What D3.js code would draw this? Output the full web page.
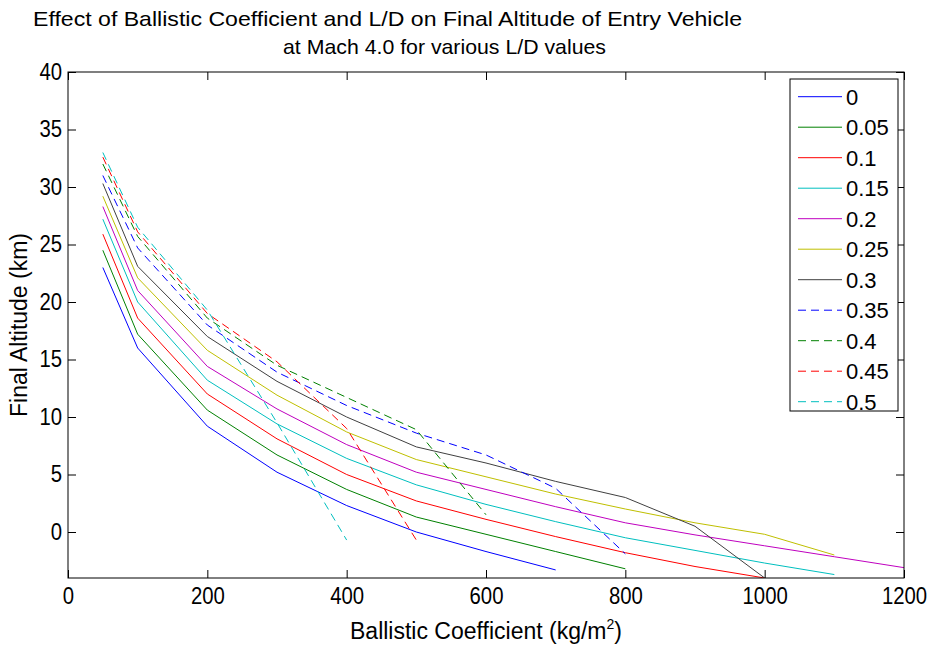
<!DOCTYPE html>
<html>
<head>
<meta charset="utf-8">
<script src="https://cdn.jsdelivr.net/npm/d3@7"></script>
<style>
  html, body { margin: 0; padding: 0; background: #fff; }
  svg { display: block; font-family: "Liberation Sans", Arial, Helvetica, sans-serif; }
</style>
</head>
<body>
<svg id="chart" width="933" height="646"></svg>
<script>
// ---------- data ----------
const ballistic = [50, 100, 200, 300, 400, 500, 600, 700, 800, 900, 1000, 1100, 1200];
const ldLabels = ["0", "0.05", "0.1", "0.15", "0.2", "0.25", "0.3", "0.35", "0.4", "0.45", "0.5"];
const alt_000 = [23.0, 16.0, 9.2, 5.2, 2.3, 0.0, -1.7, -3.3];
const alt_005 = [24.5, 17.2, 10.6, 6.7, 3.7, 1.3, -0.2, -1.7, -3.2];
const alt_010 = [25.9, 18.6, 12.0, 8.1, 5.0, 2.7, 1.1, -0.4, -1.8, -3.0, -4.0];
const alt_015 = [27.2, 20.0, 13.2, 9.4, 6.4, 4.1, 2.4, 0.9, -0.5, -1.6, -2.7, -3.7];
const alt_020 = [28.3, 21.0, 14.4, 10.7, 7.6, 5.2, 3.7, 2.2, 0.8, -0.25, -1.2, -2.15, -3.1];
const alt_025 = [29.2, 22.1, 15.8, 11.9, 8.7, 6.3, 4.8, 3.3, 2.0, 0.8, -0.2, -2.0];
const alt_030 = [30.3, 23.1, 17.0, 13.1, 10.0, 7.4, 6.0, 4.4, 3.0, 0.5, -4.0];
const alt_035 = [31.0, 24.7, 18.0, 13.9, 11.0, 8.6, 6.7, 3.8, -1.9];
const alt_040 = [32.0, 25.7, 18.6, 14.5, 11.7, 8.9, 1.5];
const alt_045 = [32.6, 26.1, 19.0, 14.8, 9.0, -0.7];
const alt_050 = [33.0, 26.5, 19.3, 9.5, -0.7];
const seriesValues = [alt_000, alt_005, alt_010, alt_015, alt_020, alt_025, alt_030, alt_035, alt_040, alt_045, alt_050];
const xTicks = [0, 200, 400, 600, 800, 1000, 1200];
const yTicks = [0, 5, 10, 15, 20, 25, 30, 35, 40];
const titleLine1 = "Effect of Ballistic Coefficient and L/D on Final Altitude of Entry Vehicle";
const titleLine2 = "at Mach 4.0 for various L/D values";

// ---------- styles ----------
const colors = ["#0000ff", "#008000", "#ff0000", "#00bfbf", "#bf00bf", "#bfbf00", "#404040",
                "#0000ff", "#008000", "#ff0000", "#00bfbf"];
const dashed = [false, false, false, false, false, false, false, true, true, true, true];

const svg = d3.select("#chart");
const pL = 68, pR = 904, pT = 72, pB = 578;

const x = d3.scaleLinear().domain([0, 1200]).range([pL, pR]);
const y = d3.scaleLinear().domain([-4, 40]).range([pB, pT]);

svg.append("rect").attr("width", 933).attr("height", 646).attr("fill", "#fff");

svg.append("defs").append("clipPath").attr("id", "plotclip")
  .append("rect").attr("x", pL).attr("y", pT).attr("width", pR - pL).attr("height", pB - pT);

// lines
const line = d3.line().x(d => x(d[0])).y(d => y(d[1]));
const gLines = svg.append("g").attr("clip-path", "url(#plotclip)");
seriesValues.forEach((vals, i) => {
  const pts = vals.map((v, j) => [ballistic[j], v]);
  gLines.append("path")
    .attr("d", line(pts))
    .attr("fill", "none")
    .attr("stroke", colors[i])
    .attr("stroke-width", 1)
    .attr("stroke-dasharray", dashed[i] ? "8,5" : null);
});

// axes
const tickFont = 23, charW = 11.3;
const fmt = d3.format("d");
const axB = svg.append("g").attr("transform", `translate(0,${pB})`)
  .call(d3.axisBottom(x).tickValues(xTicks).tickFormat(fmt).tickSizeInner(-8).tickSizeOuter(0).tickPadding(10));
const axT = svg.append("g").attr("transform", `translate(0,${pT})`)
  .call(d3.axisTop(x).tickValues(xTicks).tickSizeInner(-8).tickSizeOuter(0).tickFormat(""));
const axL = svg.append("g").attr("transform", `translate(${pL},0)`)
  .call(d3.axisLeft(y).tickValues(yTicks).tickFormat(fmt).tickSizeInner(-8).tickSizeOuter(0).tickPadding(6));
const axR = svg.append("g").attr("transform", `translate(${pR},0)`)
  .call(d3.axisRight(y).tickValues(yTicks).tickSizeInner(-8).tickSizeOuter(0).tickFormat(""));
[axB, axT, axL, axR].forEach(a => {
  a.select(".domain").remove();
  a.selectAll("line").attr("stroke", "#000");
  a.selectAll("text").attr("font-size", tickFont).attr("fill", "#000")
    .attr("font-family", "'Liberation Sans', Arial, sans-serif")
    .attr("textLength", function() { return this.textContent.length * charW; })
    .attr("lengthAdjust", "spacingAndGlyphs");
});
// box
svg.append("rect").attr("x", pL).attr("y", pT).attr("width", pR - pL).attr("height", pB - pT)
  .attr("fill", "none").attr("stroke", "#000").attr("stroke-width", 1);

// titles
svg.append("text").attr("x", 33).attr("y", 26).attr("font-size", 21)
  .attr("textLength", 709).attr("lengthAdjust", "spacingAndGlyphs").text(titleLine1);
svg.append("text").attr("x", 283).attr("y", 54).attr("font-size", 21)
  .attr("textLength", 323).attr("lengthAdjust", "spacingAndGlyphs").text(titleLine2);

// x label
const xl = svg.append("text").attr("x", (pL + pR) / 2).attr("y", 639)
  .attr("text-anchor", "middle").attr("font-size", 23);
xl.append("tspan").text("Ballistic Coefficient (kg/m");
xl.append("tspan").attr("font-size", 14).attr("dy", -10).text("2");
xl.append("tspan").attr("dy", 10).text(")");

// y label
svg.append("text").attr("transform", `translate(27,${(pT + pB) / 2}) rotate(-90)`)
  .attr("text-anchor", "middle").attr("font-size", 23).text("Final Altitude (km)");

// legend
const lgX = 790, lgY = 79, lgW = 108, lgH = 332;
const lg = svg.append("g");
lg.append("rect").attr("x", lgX).attr("y", lgY).attr("width", lgW).attr("height", lgH)
  .attr("fill", "#fff").attr("stroke", "#000").attr("stroke-width", 1);
ldLabels.forEach((lab, i) => {
  const cy = 96.7 + i * 30.5;
  lg.append("line").attr("x1", 798).attr("x2", 842).attr("y1", cy).attr("y2", cy)
    .attr("stroke", colors[i]).attr("stroke-width", 1)
    .attr("stroke-dasharray", dashed[i] ? "8,5" : null);
  lg.append("text").attr("x", 846).attr("y", cy + 8).attr("font-size", 22).text(lab);
});
</script>
</body>
</html>
